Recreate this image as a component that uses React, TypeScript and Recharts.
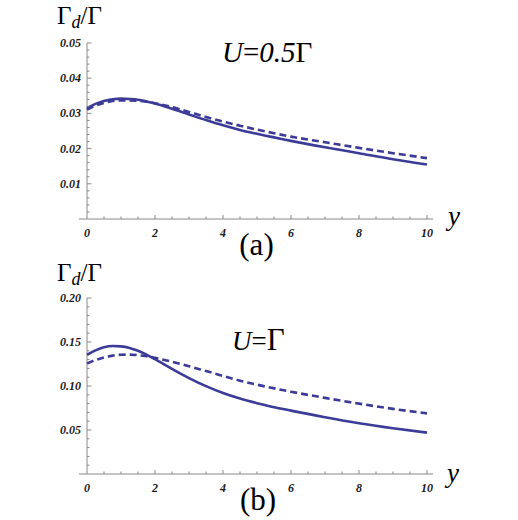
import React from "react";
import { LineChart, Line, XAxis, YAxis, ReferenceLine } from "recharts";

// ---- data ----
const X = [0, 0.25, 0.5, 0.75, 1, 1.25, 1.5, 1.75, 2, 2.5, 3, 3.5, 4, 4.5, 5, 6, 7, 8, 9, 10];

// panel (a): U = 0.5 Γ
const SOLID_A = [0.0315, 0.0327, 0.0335, 0.034, 0.0342, 0.0341, 0.0339, 0.0334, 0.0328, 0.0313, 0.0297, 0.0281, 0.0266, 0.0253, 0.0242, 0.0222, 0.0204, 0.0187, 0.017, 0.0155];
const DASHED_A = [0.0311, 0.0322, 0.033, 0.0335, 0.0337, 0.0337, 0.0336, 0.0333, 0.0329, 0.0318, 0.0304, 0.029, 0.0277, 0.0265, 0.0254, 0.0234, 0.0218, 0.0202, 0.0187, 0.0173];

// panel (b): U = Γ
const SOLID_B = [0.1355, 0.1405, 0.144, 0.1455, 0.145, 0.1432, 0.14, 0.1357, 0.1305, 0.1195, 0.109, 0.0998, 0.092, 0.0857, 0.0805, 0.072, 0.0645, 0.0577, 0.052, 0.047];
const DASHED_B = [0.1255, 0.1295, 0.1325, 0.1345, 0.1355, 0.1357, 0.135, 0.1338, 0.132, 0.1275, 0.1225, 0.117, 0.1115, 0.106, 0.1015, 0.0935, 0.0865, 0.08, 0.074, 0.0689];

// ticks
const X_MAJOR = [0, 2, 4, 6, 8, 10];
const X_LABELS = ["0", "2", "4", "6", "8", "10"];
const X_MINOR_STEP = 0.5;

const Y_MAJOR_A = [0.01, 0.02, 0.03, 0.04, 0.05];
const Y_LABELS_A = ["0.01", "0.02", "0.03", "0.04", "0.05"];
const Y_MINOR_STEP_A = 0.002;
const Y_MAX_A = 0.05;

const Y_MAJOR_B = [0.05, 0.1, 0.15, 0.2];
const Y_LABELS_B = ["0.05", "0.10", "0.15", "0.20"];
const Y_MINOR_STEP_B = 0.01;
const Y_MAX_B = 0.2;

// ---- style ----
const LINE_COLOR = "#3c3c98";
const AXIS_COLOR = "#8a8a8a";
const SERIF = "'Liberation Serif', 'Times New Roman', serif";
const PAD_L = 8;
const PAD_R = 6;

const X_TICKS: number[] = [];
for (let k = 0; k <= Math.round(10 / X_MINOR_STEP); k++) X_TICKS.push(+(k * X_MINOR_STEP).toFixed(4));

function buildRows(a: number[], b: number[]) {
  return X.map((x, i) => ({ x, solid: a[i], dashed: b[i] }));
}

function findMajor(v: number, majors: number[]) {
  for (let i = 0; i < majors.length; i++) if (Math.abs(majors[i] - v) < 1e-9) return i;
  return -1;
}

function XTick(props: any) {
  const { x, y, payload } = props;
  const v = payload.value as number;
  const mi = findMajor(v, X_MAJOR);
  const len = mi >= 0 ? 4 : 2.5;
  return (
    <g>
      {v !== 0 && <line x1={x} x2={x} y1={y} y2={y - len} stroke={AXIS_COLOR} strokeWidth={1} />}
      {mi >= 0 && (
        <text
          x={x}
          y={y + 14}
          textAnchor="middle"
          dominantBaseline="central"
          fontFamily={SERIF}
          fontStyle="italic"
          fontWeight="bold"
          fontSize={12}
          fill="#1a1a1a"
        >
          {X_LABELS[mi]}
        </text>
      )}
    </g>
  );
}

function YTick(props: any) {
  const { x, y, payload, majors, labels } = props;
  const v = payload.value as number;
  if (v === 0) return <g />;
  const mi = findMajor(v, majors);
  const ax = x + PAD_L;
  const len = mi >= 0 ? 4.5 : 2.5;
  return (
    <g>
      <line x1={ax} x2={ax + len} y1={y} y2={y} stroke={AXIS_COLOR} strokeWidth={1} />
      {mi >= 0 && (
        <text
          x={ax - 6}
          y={y}
          textAnchor="end"
          dominantBaseline="central"
          fontFamily={SERIF}
          fontStyle="italic"
          fontWeight="bold"
          fontSize={12}
          fill="#1a1a1a"
        >
          {labels[mi]}
        </text>
      )}
    </g>
  );
}

function Panel(props: {
  rows: any[];
  yMax: number;
  yMajor: number[];
  yLabels: string[];
  yStep: number;
  margin: { top: number; right: number; bottom: number; left: number };
}) {
  const { rows, yMax, yMajor, yLabels, yStep, margin } = props;
  const yTicks: number[] = [];
  for (let k = 0; k <= Math.round(yMax / yStep); k++) yTicks.push(+(k * yStep).toFixed(5));
  return (
    <LineChart width={518} height={260} data={rows} margin={margin}>
      <XAxis
        dataKey="x"
        type="number"
        domain={[0, 10]}
        ticks={X_TICKS}
        interval={0}
        padding={{ left: PAD_L, right: PAD_R }}
        tickSize={0}
        tickMargin={0}
        tickLine={false}
        axisLine={{ stroke: AXIS_COLOR, strokeWidth: 1 }}
        tick={(p: any) => <XTick {...p} />}
        height={30}
      />
      <YAxis
        type="number"
        domain={[0, yMax]}
        ticks={yTicks}
        interval={0}
        width={60}
        tickSize={0}
        tickMargin={0}
        tickLine={false}
        axisLine={false}
        tick={(p: any) => <YTick {...p} majors={yMajor} labels={yLabels} />}
      />
      <ReferenceLine x={0} stroke={AXIS_COLOR} strokeWidth={1} />
      <Line
        type="monotone"
        dataKey="solid"
        stroke={LINE_COLOR}
        strokeWidth={2.6}
        dot={false}
        isAnimationActive={false}
      />
      <Line
        type="monotone"
        dataKey="dashed"
        stroke={LINE_COLOR}
        strokeWidth={2.6}
        strokeDasharray="7 4"
        dot={false}
        isAnimationActive={false}
      />
    </LineChart>
  );
}

export default function App() {
  const rowsA = buildRows(SOLID_A, DASHED_A);
  const rowsB = buildRows(SOLID_B, DASHED_B);
  return (
    <div style={{ position: "absolute", left: 0, top: 0, width: 518, height: 520, background: "#fff" }}>
      <div style={{ position: "absolute", left: 0, top: 0 }}>
        <Panel
          rows={rowsA}
          yMax={Y_MAX_A}
          yMajor={Y_MAJOR_A}
          yLabels={Y_LABELS_A}
          yStep={Y_MINOR_STEP_A}
          margin={{ top: 43, right: 85, bottom: 11, left: 19 }}
        />
      </div>
      <div style={{ position: "absolute", left: 0, top: 260 }}>
        <Panel
          rows={rowsB}
          yMax={Y_MAX_B}
          yMajor={Y_MAJOR_B}
          yLabels={Y_LABELS_B}
          yStep={Y_MINOR_STEP_B}
          margin={{ top: 38, right: 85, bottom: 16, left: 19 }}
        />
      </div>
      <svg
        width={518}
        height={520}
        style={{ position: "absolute", left: 0, top: 0, pointerEvents: "none" }}
      >
        <g fontFamily={SERIF} fill="#000">
          {/* panel (a) texts */}
          <text x={57} y={24} fontSize={25}>
            Γ<tspan fontStyle="italic" fontSize={18} dy={4}>d</tspan>
            <tspan dy={-4}>/Γ</tspan>
          </text>
          <text x={222} y={62} fontSize={29}>
            <tspan fontStyle="italic">U</tspan>=<tspan fontStyle="italic">0.5</tspan>Γ
          </text>
          <text x={448} y={225} fontSize={27} fontStyle="italic">y</text>
          <text x={256.5} y={255} fontSize={31} textAnchor="middle">(a)</text>

          {/* panel (b) texts */}
          <text x={57} y={281} fontSize={25}>
            Γ<tspan fontStyle="italic" fontSize={18} dy={4}>d</tspan>
            <tspan dy={-4}>/Γ</tspan>
          </text>
          <text x={232} y={350} fontSize={27}>
            <tspan fontStyle="italic">U</tspan>=<tspan fontSize={31}>Γ</tspan>
          </text>
          <text x={447} y={482} fontSize={27} fontStyle="italic">y</text>
          <text x={258} y={510} fontSize={31} textAnchor="middle">(b)</text>
        </g>
      </svg>
    </div>
  );
}
